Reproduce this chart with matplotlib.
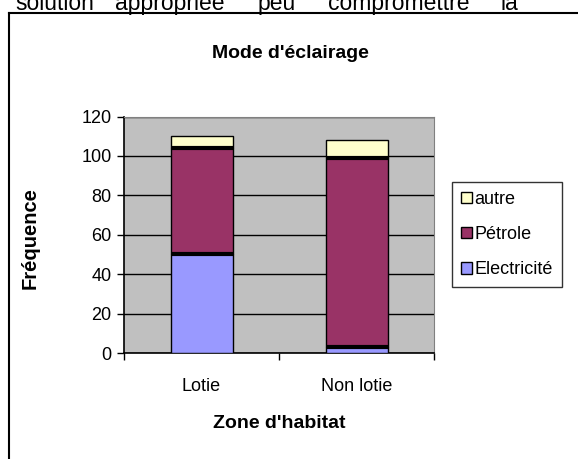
import matplotlib.pyplot as plt
from matplotlib.patches import Patch
from matplotlib.lines import Line2D
import numpy as np

plt.rcParams['font.family'] = ['Liberation Sans', 'DejaVu Sans']

zones = ["Lotie", "Non lotie"]
electricite = [50, 3]
petrole = [54, 96]
autre = [6, 9]

W, H = 578, 459
fig = plt.figure(figsize=(W / 100, H / 100), dpi=100)
fig.patch.set_facecolor("white")

# chart area: plot box in pixel coords of the reference
ax = fig.add_axes([124 / W, 1 - 353 / H, (434 - 124) / W, (353 - 116.5) / H])
ax.set_facecolor("#C0C0C0")

x = np.arange(len(zones))
bw = 0.4
c_elec, c_pet, c_aut = "#9999FF", "#993366", "#FFFFCC"
ax.bar(x, electricite, bw, color=c_elec, edgecolor="black", lw=1, zorder=3)
bottom2 = np.array(electricite)
ax.bar(x, petrole, bw, bottom=bottom2, color=c_pet, edgecolor="black", lw=1, zorder=3)
bottom3 = bottom2 + np.array(petrole)
ax.bar(x, autre, bw, bottom=bottom3, color=c_aut, edgecolor="black", lw=1, zorder=3)
# thick separators between segments
ax.hlines(bottom2, x - bw / 2, x + bw / 2, color="black", lw=3, zorder=4)
ax.hlines(bottom3, x - bw / 2, x + bw / 2, color="black", lw=3, zorder=4)

ax.set_xlim(-0.5, 1.5)
ax.set_ylim(0, 120)
ax.set_yticks(range(0, 121, 20))
ax.yaxis.grid(True, color="black", lw=1)
ax.set_axisbelow(True)
ax.tick_params(axis="y", direction="out", length=5, width=1, labelsize=13, pad=4)
ax.set_xticks(x)
ax.set_xticklabels(zones)
ax.tick_params(axis="x", which="major", length=0, labelsize=13, pad=18)
ax.set_xticks([-0.5, 0.5, 1.5], minor=True)
ax.tick_params(axis="x", which="minor", direction="out", length=5, width=1)
for s in ["top", "right"]:
    ax.spines[s].set_color("#808080")
for s in ["left", "bottom"]:
    ax.spines[s].set_color("black")
    ax.spines[s].set_linewidth(1.2)

fig.text(290 / W, 1 - 53 / H, "Mode d'éclairage", ha="center", va="center",
         fontsize=14, fontweight="bold")
fig.text(30 / W, 1 - 238 / H, "Fréquence", ha="center", va="center",
         rotation=90, fontsize=14.5, fontweight="bold")
fig.text(279 / W, 1 - 424 / H, "Zone d'habitat", ha="center", va="center",
         fontsize=14, fontweight="bold")

handles = [Patch(facecolor=c, edgecolor="black", lw=1) for c in (c_aut, c_pet, c_elec)]
leg = fig.legend(handles, ["autre", "Pétrole", "Electricité"], loc="upper left",
                 bbox_to_anchor=(452 / W, 1 - 182 / H), fontsize=13,
                 handlelength=0.6, handleheight=0.6, handletextpad=0.15,
                 labelspacing=1.0, borderpad=0.5, borderaxespad=0,
                 fancybox=False)
leg.get_frame().set_edgecolor("black")
leg.get_frame().set_linewidth(1)

# outer chart border (runs off the right and bottom of the picture)
yb = 1 - 13 / H
xb = 8.5 / W
fig.add_artist(Line2D([xb, xb], [0, yb], color="black", lw=1.5))
fig.add_artist(Line2D([xb, 1], [yb, yb], color="black", lw=1.5))

# running text above the chart, cut off at the top as in the reference
words = ["solution", "appropriée", "peu", "compromettre", "la"]
wx = [15, 115, 258, 328, 500]
for w, px in zip(words, wx):
    fig.text(px / W, 1 - 10 / H, w, ha="left", va="baseline", fontsize=16.5)

fig.savefig("out.png", dpi=100)
